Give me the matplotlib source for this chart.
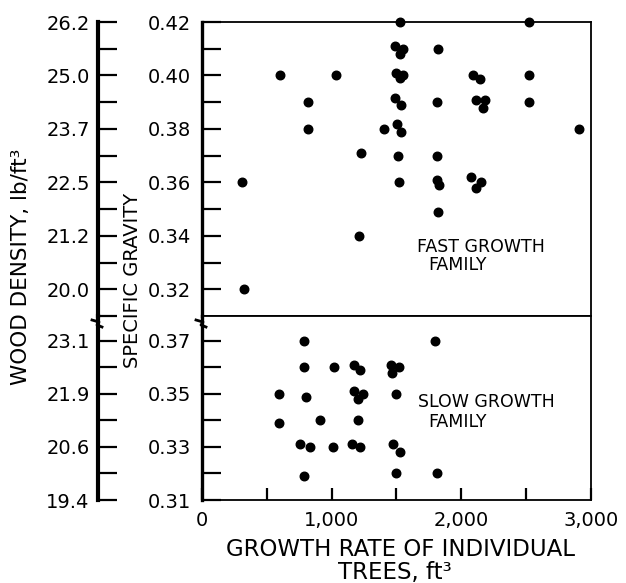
import matplotlib
matplotlib.use('Agg')
import matplotlib.pyplot as plt
from matplotlib.lines import Line2D

plt.rcParams['font.family'] = 'DejaVu Sans'

# fast growth family: growth rate (ft3) and specific gravity
fast_rate = [600, 1030, 820, 820, 1400, 1230, 310, 1210, 325, 1530,
             1490, 1550, 1525, 1495, 1550, 1527, 1488, 1535, 1504, 1535,
             1511, 1519, 2520, 1820, 2090, 2145, 2520, 1810, 2110, 2180,
             2165, 2520, 2910, 1810, 1810, 1830, 2075, 2150, 2115, 1820]
fast_sg = [0.400, 0.400, 0.390, 0.380, 0.380, 0.371, 0.360, 0.340, 0.320, 0.420,
           0.411, 0.410, 0.408, 0.401, 0.400, 0.399, 0.3915, 0.389, 0.382, 0.379,
           0.370, 0.360, 0.420, 0.410, 0.400, 0.3985, 0.400, 0.390, 0.391, 0.391,
           0.388, 0.390, 0.380, 0.370, 0.361, 0.359, 0.362, 0.360, 0.358, 0.349]

# slow growth family
slow_rate = [790, 1800, 787, 1015, 1170, 1220, 1460, 1520, 1465, 595,
             800, 1175, 1245, 1200, 1500, 595, 910, 1205, 758, 833,
             1013, 1155, 1218, 1475, 1530, 790, 1495, 1810]
slow_sg = [0.370, 0.370, 0.360, 0.360, 0.361, 0.359, 0.361, 0.360, 0.358, 0.350,
           0.349, 0.351, 0.350, 0.348, 0.350, 0.339, 0.340, 0.340, 0.331, 0.330,
           0.330, 0.331, 0.330, 0.331, 0.328, 0.319, 0.320, 0.320]

# axis ticks
top_sg_ticks = [0.42, 0.40, 0.38, 0.36, 0.34, 0.32]
top_sg_minor = [0.41, 0.39, 0.37, 0.35, 0.33]
top_wd_labels = ['26.2', '25.0', '23.7', '22.5', '21.2', '20.0']
bot_sg_ticks = [0.37, 0.35, 0.33, 0.31]
bot_sg_minor = [0.36, 0.34, 0.32]
bot_wd_labels = ['23.1', '21.9', '20.6', '19.4']
x_ticks = [0, 1000, 2000, 3000]
x_minor = [500, 1500, 2500]
x_labels = ['0', '1,000', '2,000', '3,000']

W, H = 626, 583
fig = plt.figure(figsize=(W / 100, H / 100), dpi=100)

left = 202 / W
width = 389 / W
ax_top = fig.add_axes([left, 1 - 316 / H, width, 294 / H])
ax_bot = fig.add_axes([left, 1 - 500 / H, width, 184 / H])

outer_loc = -104 / 389
tick_kw = dict(direction='in', length=14, width=1.6, labelsize=14, color='black')


def style_panel(ax, ylim, ticks, minor, wd_labels, extra_minor=None):
    ax.set_xlim(0, 3000)
    ax.set_ylim(*ylim)
    ax.set_yticks(ticks)
    ax.set_yticklabels(['%.2f' % t for t in ticks])
    ax.set_yticks(minor, minor=True)
    ax.tick_params(axis='y', which='both', pad=8, **tick_kw)
    for side in ['top', 'right', 'bottom']:
        ax.spines[side].set_linewidth(1.3)
    ax.spines['left'].set_linewidth(2.4)

    sec = ax.secondary_yaxis(outer_loc)
    sec.set_ticks(ticks, labels=wd_labels)
    sec.set_ticks(minor + (extra_minor or []), minor=True)
    sec.tick_params(axis='y', which='both', pad=6, **tick_kw)
    sec.spines['left'].set_linewidth(3)
    return sec


style_panel(ax_top, (0.31, 0.42), top_sg_ticks, top_sg_minor, top_wd_labels,
            extra_minor=[0.31])
ax_top.set_xticks([])

style_panel(ax_bot, (0.31, 0.3794), bot_sg_ticks, bot_sg_minor, bot_wd_labels)
ax_bot.set_xticks(x_ticks)
ax_bot.set_xticklabels(x_labels)
ax_bot.set_xticks(x_minor, minor=True)
ax_bot.tick_params(axis='x', which='both', direction='in', length=9, width=1.6,
                   labelsize=14, pad=8)

ax_top.scatter(fast_rate, fast_sg, s=38, color='black', clip_on=False, zorder=3)
ax_bot.scatter(slow_rate, slow_sg, s=38, color='black', clip_on=False, zorder=3)

ax_top.text(1658, 0.3358, 'FAST GROWTH', fontsize=12.5, va='center')
ax_top.text(1743, 0.3290, 'FAMILY', fontsize=12.5, va='center')
ax_bot.text(1666, 0.3470, 'SLOW GROWTH', fontsize=12.5, va='center')
ax_bot.text(1743, 0.3395, 'FAMILY', fontsize=12.5, va='center')

# axis break marks on both left spines
for bx in [98, 202]:
    xs = [bx - 6, bx + 1, bx - 1, bx + 4]
    ys = [320, 322, 325, 327]
    fig.add_artist(Line2D([x / W for x in xs], [1 - y / H for y in ys],
                          color='black', lw=2))

fig.text(21 / W, 1 - 267 / H, 'WOOD DENSITY, lb/ft³', rotation=90,
         ha='center', va='center', fontsize=15.5)
fig.text(132 / W, 1 - 280 / H, 'SPECIFIC GRAVITY', rotation=90,
         ha='center', va='center', fontsize=14)
fig.text(400 / W, 1 - 549 / H, 'GROWTH RATE OF INDIVIDUAL',
         ha='center', va='center', fontsize=16.5)
fig.text(395 / W, 1 - 573 / H, 'TREES, ft³',
         ha='center', va='center', fontsize=16.5)

fig.savefig('out.png', dpi=100)
